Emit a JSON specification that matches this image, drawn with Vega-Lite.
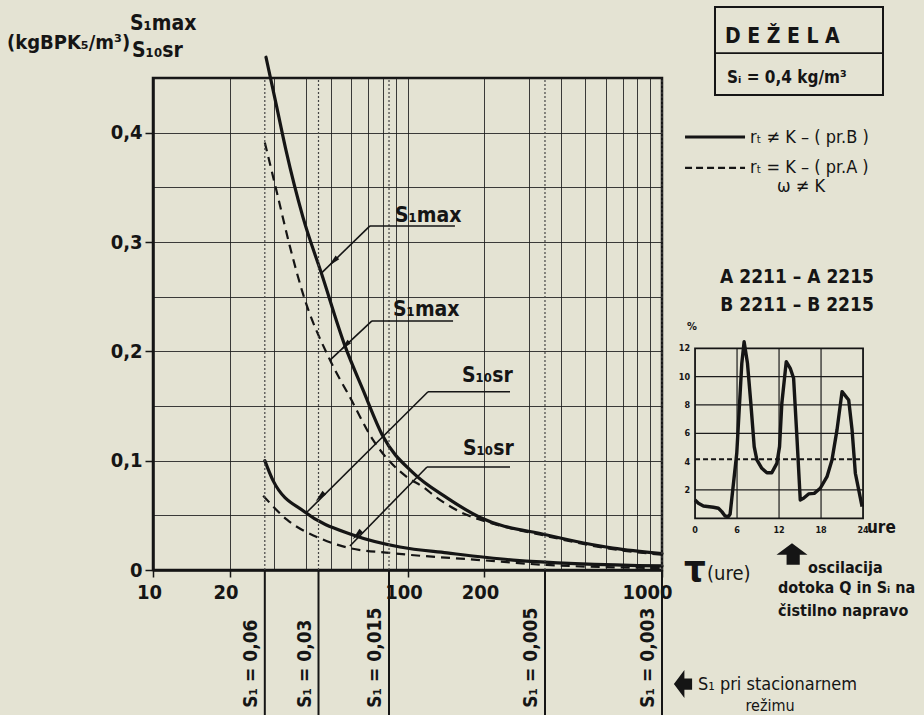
{
"$schema":"https://vega.github.io/schema/vega-lite/v6.json",
"width":509,"height":492,
"autosize":{"type":"none"},
"padding":{"left":153,"top":78,"right":262,"bottom":145},
"background":"#e4e3d3",
"config":{"view":{"stroke":"#151515","strokeWidth":2.5},"font":"Liberation Sans Narrow, DejaVu Sans Condensed, sans-serif","text":{"font":"Liberation Sans Narrow, DejaVu Sans Condensed, sans-serif","color":"#151515","fontWeight":"bold"}},
"datasets":{
"curves":[
{"curve":"S1max","regime":"B","tau":27.8,"S":0.469},
{"curve":"S1max","regime":"B","tau":30.6,"S":0.424},
{"curve":"S1max","regime":"B","tau":33.3,"S":0.384},
{"curve":"S1max","regime":"B","tau":38.8,"S":0.323},
{"curve":"S1max","regime":"B","tau":46.1,"S":0.27},
{"curve":"S1max","regime":"B","tau":56.8,"S":0.205},
{"curve":"S1max","regime":"B","tau":66.8,"S":0.165},
{"curve":"S1max","regime":"B","tau":80.2,"S":0.122},
{"curve":"S1max","regime":"B","tau":105,"S":0.089},
{"curve":"S1max","regime":"B","tau":143,"S":0.066},
{"curve":"S1max","regime":"B","tau":193,"S":0.048},
{"curve":"S1max","regime":"B","tau":353,"S":0.032},
{"curve":"S1max","regime":"B","tau":641,"S":0.02},
{"curve":"S1max","regime":"B","tau":1000,"S":0.015},
{"curve":"S1max","regime":"A","tau":27.5,"S":0.391},
{"curve":"S1max","regime":"A","tau":30.7,"S":0.345},
{"curve":"S1max","regime":"A","tau":34.5,"S":0.296},
{"curve":"S1max","regime":"A","tau":38.8,"S":0.253},
{"curve":"S1max","regime":"A","tau":49.6,"S":0.192},
{"curve":"S1max","regime":"A","tau":59.4,"S":0.158},
{"curve":"S1max","regime":"A","tau":73.2,"S":0.119},
{"curve":"S1max","regime":"A","tau":99.5,"S":0.085},
{"curve":"S1max","regime":"A","tau":115,"S":0.076},
{"curve":"S1max","regime":"A","tau":130.6,"S":0.066},
{"curve":"S1max","regime":"A","tau":165,"S":0.052},
{"curve":"S1max","regime":"A","tau":193,"S":0.046},
{"curve":"S1max","regime":"A","tau":353,"S":0.031},
{"curve":"S1max","regime":"A","tau":641,"S":0.019},
{"curve":"S1max","regime":"A","tau":1000,"S":0.014},
{"curve":"S10sr","regime":"B","tau":27.5,"S":0.1},
{"curve":"S10sr","regime":"B","tau":29.6,"S":0.082},
{"curve":"S10sr","regime":"B","tau":39.5,"S":0.053},
{"curve":"S10sr","regime":"B","tau":61.1,"S":0.032},
{"curve":"S10sr","regime":"B","tau":93.4,"S":0.021},
{"curve":"S10sr","regime":"B","tau":143,"S":0.0156},
{"curve":"S10sr","regime":"B","tau":260,"S":0.0091},
{"curve":"S10sr","regime":"B","tau":1000,"S":0.0037},
{"curve":"S10sr","regime":"A","tau":27.1,"S":0.068},
{"curve":"S10sr","regime":"A","tau":33.6,"S":0.046},
{"curve":"S10sr","regime":"A","tau":45.3,"S":0.029},
{"curve":"S10sr","regime":"A","tau":59.4,"S":0.02},
{"curve":"S10sr","regime":"A","tau":85.3,"S":0.0156},
{"curve":"S10sr","regime":"A","tau":193,"S":0.0091},
{"curve":"S10sr","regime":"A","tau":353,"S":0.0046},
{"curve":"S10sr","regime":"A","tau":1000,"S":0.0018}
],
"s1":[
{"tau":27.5,"label":"S₁ = 0,06"},
{"tau":44.7,"label":"S₁ = 0,03"},
{"tau":84.6,"label":"S₁ = 0,015"},
{"tau":346.9,"label":"S₁ = 0,005"},
{"tau":1000,"label":"S₁ = 0,003"}
],
"hourly":[
{"hour":0,"pct":1.29},{"hour":0.48,"pct":1.06},{"hour":1.19,"pct":0.87},{"hour":2.62,"pct":0.78},{"hour":3.34,"pct":0.71},{"hour":3.82,"pct":0.47},{"hour":4.29,"pct":0.16},{"hour":4.77,"pct":0.12},{"hour":5.01,"pct":0.3},{"hour":5.96,"pct":4.59},{"hour":6.68,"pct":10.94},{"hour":7.01,"pct":12.47},{"hour":7.49,"pct":10.94},{"hour":7.97,"pct":8.12},{"hour":8.45,"pct":5.06},{"hour":8.83,"pct":4.12},{"hour":9.54,"pct":3.53},{"hour":10.26,"pct":3.22},{"hour":10.97,"pct":3.22},{"hour":11.69,"pct":3.88},{"hour":12.07,"pct":5.06},{"hour":12.4,"pct":8.12},{"hour":13.03,"pct":11.06},{"hour":13.6,"pct":10.59},{"hour":14.08,"pct":9.88},{"hour":14.55,"pct":5.76},{"hour":15.03,"pct":1.29},{"hour":15.5,"pct":1.41},{"hour":16.22,"pct":1.72},{"hour":17.03,"pct":1.76},{"hour":17.89,"pct":2.12},{"hour":18.85,"pct":2.94},{"hour":19.56,"pct":4.12},{"hour":20.28,"pct":6.24},{"hour":21.0,"pct":8.94},{"hour":21.95,"pct":8.35},{"hour":22.43,"pct":6.24},{"hour":22.9,"pct":3.18},{"hour":23.38,"pct":2.0},{"hour":23.86,"pct":0.82}
]
},
"layer":[
{"data":{"name":"curves"},"transform":[{"filter":"datum.regime == 'B'"}],
 "mark":{"type":"line","color":"#151515","strokeWidth":3.2,"interpolate":"monotone","strokeCap":"round","strokeJoin":"round"},
 "encoding":{
  "x":{"field":"tau","type":"quantitative","scale":{"type":"log","domain":[10,1000],"nice":false},
   "axis":{"values":[10,20,30,40,50,60,70,80,90,100,200,300,400,500,600,700,800,900,1000],"title":null,"grid":true,"gridColor":"#1c1c1c","gridWidth":1,"gridOpacity":0.85,"domainColor":"#151515","domainWidth":2.5,"tickColor":"#151515","tickWidth":1.5,"tickSize":7,
    "tickOpacity":{"condition":{"test":"indexof([10,20,100,200,1000], datum.value) < 0","value":0},"value":1},
    "labelOffset":{"condition":{"test":"datum.value == 1000","value":-15},"value":-4},
    "labelExpr":"indexof([10,20,100,200,1000], datum.value) >= 0 ? format(datum.value, 'd') : ''",
    "labelFont":"Liberation Sans Narrow, DejaVu Sans Condensed, sans-serif","labelFontWeight":"bold","labelFontSize":20,"labelColor":"#151515","labelPadding":5,"labelFlush":false,"labelOverlap":false}},
  "y":{"field":"S","type":"quantitative","scale":{"domain":[0,0.45],"nice":false,"zero":false},
   "axis":{"values":[0,0.05,0.1,0.15,0.2,0.25,0.3,0.35,0.4,0.45],"title":null,"grid":true,"gridColor":"#1c1c1c","gridWidth":1,"gridOpacity":0.85,"domainColor":"#151515","domainWidth":2.5,"tickColor":"#151515","tickWidth":1.5,"tickSize":8,
    "tickOpacity":{"condition":{"test":"round(datum.value*20) % 2 == 1","value":0},"value":1},
    "labelExpr":"round(datum.value*20) % 2 == 1 ? '' : (datum.value == 0 ? '0' : replace(format(datum.value, '.1f'), '.', ','))",
    "labelFont":"Liberation Sans Narrow, DejaVu Sans Condensed, sans-serif","labelFontWeight":"bold","labelFontSize":20,"labelColor":"#151515","labelPadding":3,"labelFlush":false,"labelOverlap":false}},
  "detail":{"field":"curve"}
 }},
{"data":{"name":"curves"},"transform":[{"filter":"datum.regime == 'A'"}],
 "mark":{"type":"line","color":"#151515","strokeWidth":2.2,"strokeDash":[9,6],"interpolate":"monotone"},
 "encoding":{
  "x":{"field":"tau","type":"quantitative","scale":{"type":"log","domain":[10,1000],"nice":false},"axis":null},
  "y":{"field":"S","type":"quantitative","scale":{"domain":[0,0.45],"nice":false,"zero":false},"axis":null},
  "detail":{"field":"curve"}
 }},
{"data":{"name":"s1"},"mark":{"type":"rule","color":"#444","strokeWidth":1.2,"strokeDash":[2,2]},
 "encoding":{
  "x":{"field":"tau","type":"quantitative","scale":{"type":"log","domain":[10,1000],"nice":false},"axis":null},
  "y":{"datum":0,"type":"quantitative","scale":{"domain":[0,0.45],"nice":false,"zero":false},"axis":null},
  "y2":{"datum":0.45}
 }},
{"data":{"name":"s1"},"mark":{"type":"rule","color":"#151515","strokeWidth":2},
 "encoding":{
  "x":{"field":"tau","type":"quantitative","scale":{"type":"log","domain":[10,1000],"nice":false},"axis":null},
  "y":{"datum":0,"type":"quantitative","scale":{"domain":[0,0.45],"nice":false,"zero":false},"axis":null},
  "y2":{"datum":-0.14}
 }},
{"data":{"name":"s1"},"mark":{"type":"text","angle":270,"align":"left","baseline":"middle","dy":-14,"fontSize":19},
 "encoding":{
  "x":{"field":"tau","type":"quantitative","scale":{"type":"log","domain":[10,1000],"nice":false},"axis":null},
  "y":{"datum":-0.126,"type":"quantitative","scale":{"domain":[0,0.45],"nice":false,"zero":false},"axis":null},
  "text":{"field":"label"}
 }},
{"data":{"values":[{}]},"mark":{"type":"rule","color":"#151515","strokeWidth":1.6},"encoding":{"x":{"datum":71.2,"type":"quantitative","scale":{"type":"log","domain":[10,1000],"nice":false},"axis":null},"y":{"datum":0.3147,"type":"quantitative","scale":{"domain":[0,0.45],"nice":false,"zero":false},"axis":null},"x2":{"datum":153.6},"y2":{"datum":0.3147}}},
{"data":{"values":[{}]},"mark":{"type":"rule","color":"#151515","strokeWidth":1.6},"encoding":{"x":{"datum":71.2,"type":"quantitative","scale":{"type":"log","domain":[10,1000],"nice":false},"axis":null},"y":{"datum":0.3147,"type":"quantitative","scale":{"domain":[0,0.45],"nice":false,"zero":false},"axis":null},"x2":{"datum":46.1},"y2":{"datum":0.272}}},
{"data":{"values":[{}]},"mark":{"type":"rule","color":"#151515","strokeWidth":1.6},"encoding":{"x":{"datum":72.5,"type":"quantitative","scale":{"type":"log","domain":[10,1000],"nice":false},"axis":null},"y":{"datum":0.2278,"type":"quantitative","scale":{"domain":[0,0.45],"nice":false,"zero":false},"axis":null},"x2":{"datum":151},"y2":{"datum":0.2278}}},
{"data":{"values":[{}]},"mark":{"type":"rule","color":"#151515","strokeWidth":1.6},"encoding":{"x":{"datum":72.5,"type":"quantitative","scale":{"type":"log","domain":[10,1000],"nice":false},"axis":null},"y":{"datum":0.2278,"type":"quantitative","scale":{"domain":[0,0.45],"nice":false,"zero":false},"axis":null},"x2":{"datum":49.6},"y2":{"datum":0.192}}},
{"data":{"values":[{}]},"mark":{"type":"rule","color":"#151515","strokeWidth":1.6},"encoding":{"x":{"datum":120.4,"type":"quantitative","scale":{"type":"log","domain":[10,1000],"nice":false},"axis":null},"y":{"datum":0.163,"type":"quantitative","scale":{"domain":[0,0.45],"nice":false,"zero":false},"axis":null},"x2":{"datum":252.8},"y2":{"datum":0.163}}},
{"data":{"values":[{}]},"mark":{"type":"rule","color":"#151515","strokeWidth":1.6},"encoding":{"x":{"datum":120.4,"type":"quantitative","scale":{"type":"log","domain":[10,1000],"nice":false},"axis":null},"y":{"datum":0.163,"type":"quantitative","scale":{"domain":[0,0.45],"nice":false,"zero":false},"axis":null},"x2":{"datum":40.3},"y2":{"datum":0.053}}},
{"data":{"values":[{}]},"mark":{"type":"rule","color":"#151515","strokeWidth":1.6},"encoding":{"x":{"datum":119.3,"type":"quantitative","scale":{"type":"log","domain":[10,1000],"nice":false},"axis":null},"y":{"datum":0.0942,"type":"quantitative","scale":{"domain":[0,0.45],"nice":false,"zero":false},"axis":null},"x2":{"datum":252.8},"y2":{"datum":0.0942}}},
{"data":{"values":[{}]},"mark":{"type":"rule","color":"#151515","strokeWidth":1.6},"encoding":{"x":{"datum":119.3,"type":"quantitative","scale":{"type":"log","domain":[10,1000],"nice":false},"axis":null},"y":{"datum":0.0942,"type":"quantitative","scale":{"domain":[0,0.45],"nice":false,"zero":false},"axis":null},"x2":{"datum":59.4},"y2":{"datum":0.022}}},
{"data":{"values":[{}]},"mark":{"type":"point","shape":"M0,-1L0.42,1L-0.42,1Z","filled":true,"color":"#151515","opacity":1,"size":150,"angle":225},"encoding":{"x":{"datum":51.0,"type":"quantitative","scale":{"type":"log","domain":[10,1000],"nice":false},"axis":null},"y":{"datum":0.282,"type":"quantitative","scale":{"domain":[0,0.45],"nice":false,"zero":false},"axis":null}}},
{"data":{"values":[{}]},"mark":{"type":"point","shape":"M0,-1L0.42,1L-0.42,1Z","filled":true,"color":"#151515","opacity":1,"size":150,"angle":225},"encoding":{"x":{"datum":56.8,"type":"quantitative","scale":{"type":"log","domain":[10,1000],"nice":false},"axis":null},"y":{"datum":0.205,"type":"quantitative","scale":{"domain":[0,0.45],"nice":false,"zero":false},"axis":null}}},
{"data":{"values":[{}]},"mark":{"type":"point","shape":"M0,-1L0.42,1L-0.42,1Z","filled":true,"color":"#151515","opacity":1,"size":150,"angle":225},"encoding":{"x":{"datum":45.3,"type":"quantitative","scale":{"type":"log","domain":[10,1000],"nice":false},"axis":null},"y":{"datum":0.0668,"type":"quantitative","scale":{"domain":[0,0.45],"nice":false,"zero":false},"axis":null}}},
{"data":{"values":[{}]},"mark":{"type":"point","shape":"M0,-1L0.42,1L-0.42,1Z","filled":true,"color":"#151515","opacity":1,"size":150,"angle":225},"encoding":{"x":{"datum":63.3,"type":"quantitative","scale":{"type":"log","domain":[10,1000],"nice":false},"axis":null},"y":{"datum":0.032,"type":"quantitative","scale":{"domain":[0,0.45],"nice":false,"zero":false},"axis":null}}},
{"data":{"values":[{}]},"mark":{"type":"text","text":"S₁max","align":"left","baseline":"alphabetic","fontSize":21},"encoding":{"x":{"datum":89.3,"type":"quantitative","scale":{"type":"log","domain":[10,1000],"nice":false},"axis":null},"y":{"datum":0.3184,"type":"quantitative","scale":{"domain":[0,0.45],"nice":false,"zero":false},"axis":null}}},
{"data":{"values":[{}]},"mark":{"type":"text","text":"S₁max","align":"left","baseline":"alphabetic","fontSize":21},"encoding":{"x":{"datum":87.7,"type":"quantitative","scale":{"type":"log","domain":[10,1000],"nice":false},"axis":null},"y":{"datum":0.2324,"type":"quantitative","scale":{"domain":[0,0.45],"nice":false,"zero":false},"axis":null}}},
{"data":{"values":[{}]},"mark":{"type":"text","text":"S₁₀sr","align":"left","baseline":"alphabetic","fontSize":21},"encoding":{"x":{"datum":163.7,"type":"quantitative","scale":{"type":"log","domain":[10,1000],"nice":false},"axis":null},"y":{"datum":0.172,"type":"quantitative","scale":{"domain":[0,0.45],"nice":false,"zero":false},"axis":null}}},
{"data":{"values":[{}]},"mark":{"type":"text","text":"S₁₀sr","align":"left","baseline":"alphabetic","fontSize":21},"encoding":{"x":{"datum":165.2,"type":"quantitative","scale":{"type":"log","domain":[10,1000],"nice":false},"axis":null},"y":{"datum":0.1052,"type":"quantitative","scale":{"domain":[0,0.45],"nice":false,"zero":false},"axis":null}}},
{"data":{"values":[{}]},"mark":{"type":"text","text":"(kgBPK₅/m³)","align":"left","baseline":"alphabetic","fontSize":20},"encoding":{"x":{"datum":2.668,"type":"quantitative","scale":{"type":"log","domain":[10,1000],"nice":false},"axis":null},"y":{"datum":0.4767,"type":"quantitative","scale":{"domain":[0,0.45],"nice":false,"zero":false},"axis":null}}},
{"data":{"values":[{}]},"mark":{"type":"text","text":"S₁max","align":"left","baseline":"alphabetic","fontSize":21},"encoding":{"x":{"datum":8.12,"type":"quantitative","scale":{"type":"log","domain":[10,1000],"nice":false},"axis":null},"y":{"datum":0.494,"type":"quantitative","scale":{"domain":[0,0.45],"nice":false,"zero":false},"axis":null}}},
{"data":{"values":[{}]},"mark":{"type":"text","text":"S₁₀sr","align":"left","baseline":"alphabetic","fontSize":21},"encoding":{"x":{"datum":8.27,"type":"quantitative","scale":{"type":"log","domain":[10,1000],"nice":false},"axis":null},"y":{"datum":0.469,"type":"quantitative","scale":{"domain":[0,0.45],"nice":false,"zero":false},"axis":null}}},
{"data":{"values":[{}]},"mark":{"type":"rect","filled":false,"color":"#151515","strokeWidth":2},"encoding":{"x":{"datum":2.85,"type":"quantitative","scale":{"domain":[-77.43,-4.72],"nice":false,"zero":false},"axis":null},"x2":{"datum":26.85},"y":{"datum":36.09,"type":"quantitative","scale":{"domain":[-3.65,31.08],"nice":false,"zero":false},"axis":null},"y2":{"datum":29.88}}},
{"data":{"values":[{}]},"mark":{"type":"rule","color":"#151515","strokeWidth":1.8},"encoding":{"x":{"datum":2.85,"type":"quantitative","scale":{"domain":[-77.43,-4.72],"nice":false,"zero":false},"axis":null},"x2":{"datum":26.85},"y":{"datum":32.84,"type":"quantitative","scale":{"domain":[-3.65,31.08],"nice":false,"zero":false},"axis":null}}},
{"data":{"values":[{}]},"mark":{"type":"text","text":"D E Ž E L A","align":"left","baseline":"alphabetic","fontSize":21},"encoding":{"x":{"datum":4.28,"type":"quantitative","scale":{"domain":[-77.43,-4.72],"nice":false,"zero":false},"axis":null},"y":{"datum":33.55,"type":"quantitative","scale":{"domain":[-3.65,31.08],"nice":false,"zero":false},"axis":null}}},
{"data":{"values":[{}]},"mark":{"type":"text","text":"Sᵢ = 0,4 kg/m³","align":"left","baseline":"alphabetic","fontSize":17},"encoding":{"x":{"datum":4.57,"type":"quantitative","scale":{"domain":[-77.43,-4.72],"nice":false,"zero":false},"axis":null},"y":{"datum":30.73,"type":"quantitative","scale":{"domain":[-3.65,31.08],"nice":false,"zero":false},"axis":null}}},
{"data":{"values":[{}]},"mark":{"type":"rule","color":"#151515","strokeWidth":3},"encoding":{"x":{"datum":-1.43,"type":"quantitative","scale":{"domain":[-77.43,-4.72],"nice":false,"zero":false},"axis":null},"x2":{"datum":7.14},"y":{"datum":26.91,"type":"quantitative","scale":{"domain":[-3.65,31.08],"nice":false,"zero":false},"axis":null}}},
{"data":{"values":[{}]},"mark":{"type":"rule","color":"#151515","strokeWidth":2.2,"strokeDash":[7,4]},"encoding":{"x":{"datum":-1.43,"type":"quantitative","scale":{"domain":[-77.43,-4.72],"nice":false,"zero":false},"axis":null},"x2":{"datum":7.14},"y":{"datum":24.73,"type":"quantitative","scale":{"domain":[-3.65,31.08],"nice":false,"zero":false},"axis":null}}},
{"data":{"values":[{}]},"mark":{"type":"text","text":"rₜ ≠ K – ( pr.B )","align":"left","baseline":"middle","fontSize":18,"fontWeight":"normal"},"encoding":{"x":{"datum":7.85,"type":"quantitative","scale":{"domain":[-77.43,-4.72],"nice":false,"zero":false},"axis":null},"y":{"datum":26.84,"type":"quantitative","scale":{"domain":[-3.65,31.08],"nice":false,"zero":false},"axis":null}}},
{"data":{"values":[{}]},"mark":{"type":"text","text":"rₜ = K – ( pr.A )","align":"left","baseline":"middle","fontSize":18,"fontWeight":"normal"},"encoding":{"x":{"datum":7.85,"type":"quantitative","scale":{"domain":[-77.43,-4.72],"nice":false,"zero":false},"axis":null},"y":{"datum":24.73,"type":"quantitative","scale":{"domain":[-3.65,31.08],"nice":false,"zero":false},"axis":null}}},
{"data":{"values":[{}]},"mark":{"type":"text","text":"ω ≠ K","align":"left","baseline":"middle","fontSize":18,"fontWeight":"normal"},"encoding":{"x":{"datum":11.71,"type":"quantitative","scale":{"domain":[-77.43,-4.72],"nice":false,"zero":false},"axis":null},"y":{"datum":23.39,"type":"quantitative","scale":{"domain":[-3.65,31.08],"nice":false,"zero":false},"axis":null}}},
{"data":{"values":[{}]},"mark":{"type":"text","text":"A 2211 – A 2215","align":"center","baseline":"middle","fontSize":19},"encoding":{"x":{"datum":14.57,"type":"quantitative","scale":{"domain":[-77.43,-4.72],"nice":false,"zero":false},"axis":null},"y":{"datum":17.03,"type":"quantitative","scale":{"domain":[-3.65,31.08],"nice":false,"zero":false},"axis":null}}},
{"data":{"values":[{}]},"mark":{"type":"text","text":"B 2211 – B 2215","align":"center","baseline":"middle","fontSize":19},"encoding":{"x":{"datum":14.57,"type":"quantitative","scale":{"domain":[-77.43,-4.72],"nice":false,"zero":false},"axis":null},"y":{"datum":15.06,"type":"quantitative","scale":{"domain":[-3.65,31.08],"nice":false,"zero":false},"axis":null}}},
{"data":{"values":[{"v":2},{"v":6},{"v":8},{"v":10}]},"mark":{"type":"rule","color":"#1c1c1c","strokeWidth":1.2},"encoding":{"x":{"datum":0,"type":"quantitative","scale":{"domain":[-77.43,-4.72],"nice":false,"zero":false},"axis":null},"x2":{"datum":24},"y":{"field":"v","type":"quantitative","scale":{"domain":[-3.65,31.08],"nice":false,"zero":false},"axis":null}}},
{"data":{"values":[{"h":6},{"h":12},{"h":18}]},"mark":{"type":"rule","color":"#1c1c1c","strokeWidth":1.2},"encoding":{"x":{"field":"h","type":"quantitative","scale":{"domain":[-77.43,-4.72],"nice":false,"zero":false},"axis":null},"y":{"datum":0,"type":"quantitative","scale":{"domain":[-3.65,31.08],"nice":false,"zero":false},"axis":null},"y2":{"datum":12}}},
{"data":{"values":[{}]},"mark":{"type":"rect","filled":false,"color":"#151515","strokeWidth":1.8},"encoding":{"x":{"datum":0,"type":"quantitative","scale":{"domain":[-77.43,-4.72],"nice":false,"zero":false},"axis":null},"x2":{"datum":24},"y":{"datum":0,"type":"quantitative","scale":{"domain":[-3.65,31.08],"nice":false,"zero":false},"axis":null},"y2":{"datum":12}}},
{"data":{"values":[{"mean":4.17}]},"mark":{"type":"rule","color":"#151515","strokeWidth":2,"strokeDash":[5,3]},"encoding":{"x":{"datum":0,"type":"quantitative","scale":{"domain":[-77.43,-4.72],"nice":false,"zero":false},"axis":null},"x2":{"datum":24},"y":{"field":"mean","type":"quantitative","scale":{"domain":[-3.65,31.08],"nice":false,"zero":false},"axis":null}}},
{"data":{"name":"hourly"},"mark":{"type":"line","color":"#151515","strokeWidth":3.4,"strokeJoin":"round"},"encoding":{"x":{"field":"hour","type":"quantitative","scale":{"domain":[-77.43,-4.72],"nice":false,"zero":false},"axis":null},"y":{"field":"pct","type":"quantitative","scale":{"domain":[-3.65,31.08],"nice":false,"zero":false},"axis":null}}},
{"data":{"values":[{"v":2},{"v":4},{"v":6},{"v":8},{"v":10},{"v":12}]},"mark":{"type":"text","align":"right","baseline":"middle","fontSize":9},"encoding":{"x":{"datum":-0.7,"type":"quantitative","scale":{"domain":[-77.43,-4.72],"nice":false,"zero":false},"axis":null},"y":{"field":"v","type":"quantitative","scale":{"domain":[-3.65,31.08],"nice":false,"zero":false},"axis":null},"text":{"field":"v","type":"quantitative"}}},
{"data":{"values":[{"h":0},{"h":6},{"h":12},{"h":18},{"h":24}]},"mark":{"type":"text","align":"center","baseline":"middle","fontSize":9},"encoding":{"x":{"field":"h","type":"quantitative","scale":{"domain":[-77.43,-4.72],"nice":false,"zero":false},"axis":null},"y":{"datum":-0.85,"type":"quantitative","scale":{"domain":[-3.65,31.08],"nice":false,"zero":false},"axis":null},"text":{"field":"h","type":"quantitative"}}},
{"data":{"values":[{}]},"mark":{"type":"text","text":"ure","align":"left","baseline":"middle","fontSize":17},"encoding":{"x":{"datum":24.56,"type":"quantitative","scale":{"domain":[-77.43,-4.72],"nice":false,"zero":false},"axis":null},"y":{"datum":-0.685,"type":"quantitative","scale":{"domain":[-3.65,31.08],"nice":false,"zero":false},"axis":null}}},
{"data":{"values":[{}]},"mark":{"type":"text","text":"%","align":"center","baseline":"middle","fontSize":11},"encoding":{"x":{"datum":-0.43,"type":"quantitative","scale":{"domain":[-77.43,-4.72],"nice":false,"zero":false},"axis":null},"y":{"datum":13.5,"type":"quantitative","scale":{"domain":[-3.65,31.08],"nice":false,"zero":false},"axis":null}}},
{"data":{"values":[{}]},"mark":{"type":"text","text":"τ","align":"left","baseline":"alphabetic","fontSize":38},"encoding":{"x":{"datum":-1.58,"type":"quantitative","scale":{"domain":[-77.43,-4.72],"nice":false,"zero":false},"axis":null},"y":{"datum":-4.45,"type":"quantitative","scale":{"domain":[-3.65,31.08],"nice":false,"zero":false},"axis":null}}},
{"data":{"values":[{}]},"mark":{"type":"text","text":"(ure)","align":"left","baseline":"alphabetic","fontSize":20,"fontWeight":"normal"},"encoding":{"x":{"datum":1.71,"type":"quantitative","scale":{"domain":[-77.43,-4.72],"nice":false,"zero":false},"axis":null},"y":{"datum":-4.36,"type":"quantitative","scale":{"domain":[-3.65,31.08],"nice":false,"zero":false},"axis":null}}},
{"data":{"values":[{}]},"mark":{"type":"point","shape":"M0,-0.7L1,0.05L0.5,0.05L0.5,0.7L-0.35,0.7L-0.35,0.05L-1,0.05Z","filled":true,"color":"#151515","opacity":1,"size":961},"encoding":{"x":{"datum":13.85,"type":"quantitative","scale":{"domain":[-77.43,-4.72],"nice":false,"zero":false},"axis":null},"y":{"datum":-2.52,"type":"quantitative","scale":{"domain":[-3.65,31.08],"nice":false,"zero":false},"axis":null}}},
{"data":{"values":[{}]},"mark":{"type":"text","text":"oscilacija","align":"left","baseline":"alphabetic","fontSize":16},"encoding":{"x":{"datum":16.14,"type":"quantitative","scale":{"domain":[-77.43,-4.72],"nice":false,"zero":false},"axis":null},"y":{"datum":-3.86,"type":"quantitative","scale":{"domain":[-3.65,31.08],"nice":false,"zero":false},"axis":null}}},
{"data":{"values":[{}]},"mark":{"type":"text","text":"dotoka Q in Sᵢ na","align":"left","baseline":"alphabetic","fontSize":16},"encoding":{"x":{"datum":11.85,"type":"quantitative","scale":{"domain":[-77.43,-4.72],"nice":false,"zero":false},"axis":null},"y":{"datum":-5.27,"type":"quantitative","scale":{"domain":[-3.65,31.08],"nice":false,"zero":false},"axis":null}}},
{"data":{"values":[{}]},"mark":{"type":"text","text":"čistilno napravo","align":"left","baseline":"alphabetic","fontSize":16},"encoding":{"x":{"datum":11.85,"type":"quantitative","scale":{"domain":[-77.43,-4.72],"nice":false,"zero":false},"axis":null},"y":{"datum":-6.9,"type":"quantitative","scale":{"domain":[-3.65,31.08],"nice":false,"zero":false},"axis":null}}},
{"data":{"values":[{}]},"mark":{"type":"point","shape":"M-0.65,0L0.1,-1L0.1,-0.4L0.65,-0.4L0.65,0.4L0.1,0.4L0.1,1Z","filled":true,"color":"#151515","opacity":1,"size":784},"encoding":{"x":{"datum":-1.72,"type":"quantitative","scale":{"domain":[-77.43,-4.72],"nice":false,"zero":false},"axis":null},"y":{"datum":-11.7,"type":"quantitative","scale":{"domain":[-3.65,31.08],"nice":false,"zero":false},"axis":null}}},
{"data":{"values":[{}]},"mark":{"type":"text","text":"S₁ pri stacionarnem","align":"left","baseline":"alphabetic","fontSize":18,"fontWeight":"normal"},"encoding":{"x":{"datum":0.42,"type":"quantitative","scale":{"domain":[-77.43,-4.72],"nice":false,"zero":false},"axis":null},"y":{"datum":-12.12,"type":"quantitative","scale":{"domain":[-3.65,31.08],"nice":false,"zero":false},"axis":null}}},
{"data":{"values":[{}]},"mark":{"type":"text","text":"režimu","align":"center","baseline":"alphabetic","fontSize":16,"fontWeight":"normal"},"encoding":{"x":{"datum":10.71,"type":"quantitative","scale":{"domain":[-77.43,-4.72],"nice":false,"zero":false},"axis":null},"y":{"datum":-13.6,"type":"quantitative","scale":{"domain":[-3.65,31.08],"nice":false,"zero":false},"axis":null}}}
],
"resolve":{"scale":{"x":"independent","y":"independent"}}
}
